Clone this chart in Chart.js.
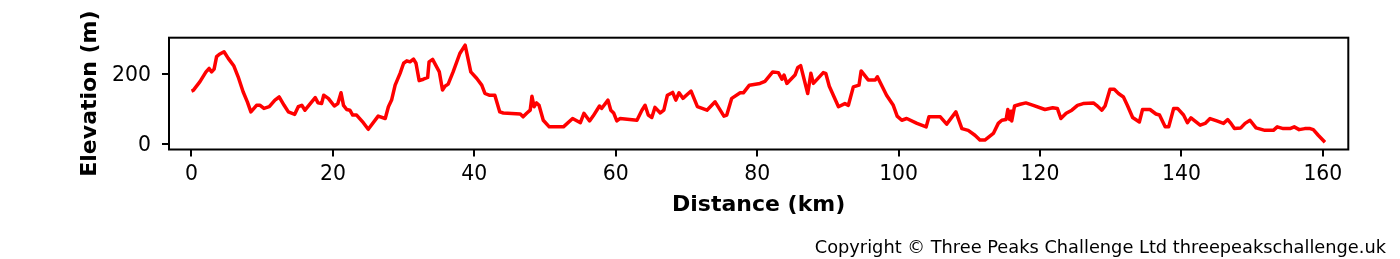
<!DOCTYPE html>
<html>
<head>
<meta charset="utf-8">
<script src="https://cdn.jsdelivr.net/npm/chart.js@4"></script>
<style>
  body { margin: 0; background: #fff; }
  #wrap { position: relative; width: 1400px; height: 259px; }
  #copy { position: absolute; right: 14px; top: 237px; font: 17.8px "DejaVu Sans"; line-height: 20px; color: #000; white-space: nowrap; }
</style>
</head>
<body>
<div id="wrap">
  <canvas id="profile" width="1400" height="259"></canvas>
  <div id="copy">Copyright © Three Peaks Challenge Ltd threepeakschallenge.uk</div>
</div>
<script>
// distance along route (km) and elevation (m)
const distanceKm = [
  0, 0.25, 1.2, 2.05, 2.5, 2.85, 3.2, 3.55, 3.95, 4.6, 5.2, 6.0, 6.6, 7.3, 7.9, 8.4, 9.2, 9.7,
  10.25, 11.0, 11.8, 12.4, 13.1, 13.7, 14.6, 15.1, 15.6, 16.05, 16.8, 17.5, 17.9, 18.4, 18.7, 19.35,
  20.2, 20.7, 21.15, 21.5, 21.95, 22.4, 22.8, 23.35, 24.3, 25.0, 26.4, 27.4, 27.85, 28.3, 28.8, 29.5,
  30.0, 30.45, 30.9, 31.4, 31.75, 32.2, 32.8, 33.4, 33.6, 34.1, 35.05, 35.5, 35.85, 36.3, 37.0, 37.95,
  38.7, 39.5, 40.35, 41.05, 41.5, 42.1, 42.9, 43.6, 44.1, 46.5, 46.9, 47.4, 47.9, 48.15, 48.45, 48.8,
  49.15, 49.75, 50.6, 52.6, 53.9, 55.0, 55.5, 56.3, 56.8, 57.7, 58.0, 58.9, 59.3, 59.7, 60.15, 60.6,
  63.0, 63.7, 64.15, 64.6, 65.1, 65.55, 66.3, 66.8, 67.3, 68.05, 68.5, 68.95, 69.5, 70.65, 71.55, 72.9,
  74.05, 75.3, 75.7, 76.4, 77.6, 78.05, 78.9, 80.4, 81.1, 82.2, 83.0, 83.5, 83.8, 84.2, 85.35, 85.75,
  86.15, 87.15, 87.6, 87.95, 89.35, 89.7, 90.2, 91.5, 92.4, 92.9, 93.6, 94.4, 94.7, 95.7, 96.7, 97.0,
  98.3, 99.25, 99.8, 100.45, 101.15, 102.6, 103.9, 104.3, 105.9, 106.8, 108.1, 108.95, 109.85, 110.8,
  111.5, 112.2, 113.4, 114.1, 114.6, 115.2, 115.45, 115.7, 115.9, 116.0, 116.4, 117.2, 118.0, 119.05,
  120.7, 121.8, 122.45, 122.95, 123.7, 124.5, 125.3, 126.1, 127.55, 128.0, 128.75, 129.2, 129.9, 130.5,
  131.1, 131.8, 132.35, 133.1, 134.05, 134.5, 135.55, 136.4, 136.9, 137.7, 138.2, 138.9, 139.45, 140.3,
  140.85, 141.35, 142.65, 143.35, 144.05, 145.0, 145.95, 146.55, 147.0, 147.5, 148.4, 149.0, 149.7,
  150.55, 151.8, 153.0, 153.55, 154.4, 155.35, 155.95, 156.65, 157.45, 158.2, 158.65, 159.35, 160.3
];
const elevationM = [
  152, 154, 179, 207, 217, 207, 215, 251, 258, 265, 246, 224, 193, 150, 121, 92, 111, 111,
  102, 107, 126, 135, 111, 92, 85, 107, 111, 97, 116, 133, 118, 116, 140, 131,
  109, 116, 147, 111, 99, 97, 83, 83, 61, 42, 80, 73, 107, 126, 169, 203,
  232, 239, 236, 244, 232, 182, 186, 191, 236, 243, 207, 155, 166, 172, 207, 260,
  284, 207, 188, 169, 145, 140, 140, 92, 89, 86, 78, 88, 97, 137, 107, 118,
  111, 68, 49, 49, 73, 61, 88, 66, 80, 109, 102, 126, 97, 89, 66, 73,
  68, 97, 111, 83, 76, 105, 89, 97, 140, 148, 126, 147, 131, 152, 107, 97,
  121, 80, 83, 131, 147, 147, 169, 174, 180, 207, 205, 186, 198, 174, 198, 220,
  225, 145, 203, 174, 205, 203, 166, 107, 116, 111, 164, 169, 210, 184, 184, 193,
  140, 111, 80, 68, 73, 59, 49, 78, 78, 57, 92, 44, 39, 25,
  11, 11, 30, 59, 68, 70, 99, 70, 94, 66, 109, 114, 118, 111,
  99, 104, 102, 73, 88, 97, 111, 116, 118, 111, 97, 109, 157, 157,
  145, 135, 111, 76, 63, 99, 99, 86, 83, 49, 49, 102, 102, 83,
  61, 75, 54, 59, 73, 66, 59, 70, 59, 44, 46, 59, 68,
  46, 39, 39, 49, 44, 44, 49, 41, 44, 44, 41, 25, 5
];
const xTicks = [0, 20, 40, 60, 80, 100, 120, 140, 160];
const yTicks = [0, 200];

const points = distanceKm.map((d, i) => ({ x: d, y: elevationM[i] }));

// full box round the plot, like matplotlib spines
const frame = {
  id: 'frame',
  afterDraw(chart) {
    const { ctx, chartArea: a } = chart;
    ctx.save();
    ctx.strokeStyle = '#000';
    ctx.lineWidth = 2;
    ctx.strokeRect(a.left, a.top, a.right - a.left, a.bottom - a.top);
    ctx.restore();
  }
};

const tickFont = { family: 'DejaVu Sans', size: 20.4 };
const titleFont = { family: 'DejaVu Sans', size: 22, weight: 'bold' };

new Chart(document.getElementById('profile'), {
  type: 'line',
  data: {
    datasets: [{
      data: points,
      borderColor: '#ff0000',
      borderWidth: 3.5,
      borderJoinStyle: 'round',
      pointRadius: 0,
      tension: 0,
      fill: false
    }]
  },
  options: {
    responsive: false,
    animation: false,
    devicePixelRatio: 1,
    layout: { padding: { left: 0, right: 51.7, top: 37.7, bottom: 0 } },
    plugins: { legend: { display: false }, tooltip: { enabled: false } },
    scales: {
      x: {
        type: 'linear',
        min: -3.18,
        max: 163.6,
        afterBuildTicks: s => { s.ticks = xTicks.map(v => ({ value: v })); },
        afterFit: s => { s.height = 109.5; },
        grid: { drawOnChartArea: false, drawTicks: true, tickLength: 7, color: '#000', lineWidth: 2 },
        border: { display: false },
        ticks: { font: tickFont, color: '#000', padding: 6, maxRotation: 0 },
        title: { display: true, text: 'Distance (km)', font: titleFont, color: '#000', padding: { top: 0, bottom: 40.8 } }
      },
      y: {
        min: -16.1,
        max: 305.5,
        afterBuildTicks: s => { s.ticks = yTicks.map(v => ({ value: v })); },
        afterFit: s => { s.width = 169; },
        grid: { drawOnChartArea: false, drawTicks: true, tickLength: 7, color: '#000', lineWidth: 2 },
        border: { display: false },
        ticks: { font: tickFont, color: '#000', padding: 11, labelOffset: 1.5 },
        title: { display: true, text: 'Elevation (m)', font: titleFont, color: '#000', padding: { top: 77, bottom: 0 } }
      }
    }
  },
  plugins: [frame]
});
</script>
</body>
</html>
